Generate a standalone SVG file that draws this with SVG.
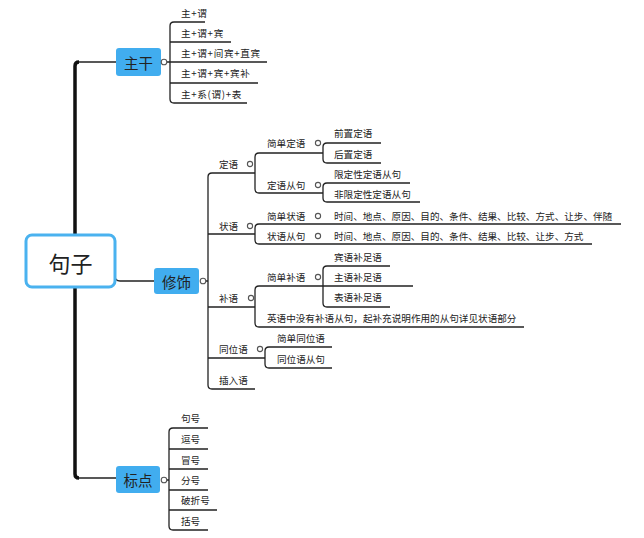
<svg xmlns="http://www.w3.org/2000/svg" width="644" height="538" viewBox="0 0 644 538">
<style>
text{font-family:"Noto Sans CJK SC","Noto Sans",sans-serif;fill:#222;dominant-baseline:central}
.leaf{font-size:9.6px}
.plus{letter-spacing:0.7px}
.box{font-size:14.5px;text-anchor:middle}
.ln{fill:none;stroke:#222;stroke-width:1.3}
.trunk{fill:none;stroke:#111;stroke-width:3.5}
.dot{fill:#fff;stroke:#555;stroke-width:1.1}
.bx{fill:#41adef}
</style>
<rect width="644" height="538" fill="#fff"/>
<g id="connectors">
  <path class="trunk" d="M75,66 Q75,62 79,62 M75,66 L75,474 Q75,478 79,478"/>
  <path class="ln" d="M79,62 L116,62 M79,478 L116,478"/>
  <path class="ln" d="M115,276 Q115,281 120,281 L154,281"/>
  <path class="ln" d="M167,62 L170,62 M174,22 Q170,22 170,26 L170,99 Q170,103 174,103"/>
  <path class="ln" d="M174,22 L205,22 M170,42 L231,42 M170,62 L267,62 M170,83 L258,83 M174,103 L247,103"/>
  <path class="ln" d="M206,281 L208,281 M212,173 Q208,173 208,177 L208,385 Q208,389 212,389"/>
  <path class="ln" d="M212,173 L255,173 M208,234 L255,234 M208,307 L255,307 M208,358 L265,358 M212,389 L255,389"/>
  <path class="ln" d="M259,153 Q255,153 255,157 L255,189 Q255,193 259,193 M259,153 L323,153 M259,193 L323,193"/>
  <path class="ln" d="M327,143 Q323,143 323,147 L323,159 Q323,163 327,163 M327,143 L381,143 M327,163 L381,163"/>
  <path class="ln" d="M327,183 Q323,183 323,187 L323,198 Q323,202 327,202 M327,183 L410,183 M327,202 L420,202"/>
  <path class="ln" d="M259,224 Q255,224 255,228 L255,240 Q255,244 259,244 M259,224 L621,224 M259,244 L592,244"/>
  <path class="ln" d="M259,286 Q255,286 255,290 L255,323 Q255,327 259,327 M259,286 L413,286 M259,327 L524,327"/>
  <path class="ln" d="M327,266 Q323,266 323,270 L323,303 Q323,307 327,307 M327,266 L390,266 M327,307 L390,307"/>
  <path class="ln" d="M269,347 Q265,347 265,351 L265,364 Q265,368 269,368 M269,347 L332,347 M269,368 L332,368"/>
  <path class="ln" d="M167,480 L169,480 M173,428 Q169,428 169,432 L169,526 Q169,530 173,530"/>
  <path class="ln" d="M173,428 L208,428 M169,449 L208,449 M169,469 L208,469 M169,490 L208,490 M169,510 L217,510 M173,530 L208,530"/>
</g>
<g id="root">
  <rect x="26" y="235" width="89" height="52" rx="6" fill="#fff" stroke="#4ab2ef" stroke-width="3"/>
  <text x="70.5" y="262" font-size="22" text-anchor="middle">句子</text>
</g>
<g id="zhugan">
  <rect class="bx" x="116" y="48" width="45" height="28" rx="3"/>
  <text class="box" x="138.5" y="62">主干</text>
  <circle class="dot" cx="164" cy="62" r="2.8"/>
</g>
<g id="xiushi">
  <rect class="bx" x="154" y="268" width="45" height="26" rx="3"/>
  <text class="box" x="176.5" y="281">修饰</text>
  <circle class="dot" cx="203" cy="281" r="2.8"/>
</g>
<g id="biaodian">
  <rect class="bx" x="116" y="466" width="44" height="27" rx="3"/>
  <text class="box" x="138" y="479.5">标点</text>
  <circle class="dot" cx="164" cy="480" r="2.8"/>
</g>
<g id="zhugan-children">
  <text class="leaf plus" x="181" y="13">主+谓</text>
  <text class="leaf plus" x="181" y="33">主+谓+宾</text>
  <text class="leaf plus" x="181" y="53">主+谓+间宾+直宾</text>
  <text class="leaf plus" x="181" y="73">主+谓+宾+宾补</text>
  <text class="leaf plus" x="181" y="94">主+系(谓)+表</text>
</g>
<g id="dingyu">
  <text class="leaf" x="219" y="164">定语</text>
  <circle class="dot" cx="250" cy="164" r="2.6"/>
  <text class="leaf" x="267" y="143">简单定语</text>
  <circle class="dot" cx="318" cy="143" r="2.6"/>
  <text class="leaf" x="334" y="133">前置定语</text>
  <text class="leaf" x="334" y="154">后置定语</text>
  <text class="leaf" x="267" y="185">定语从句</text>
  <circle class="dot" cx="318" cy="185" r="2.6"/>
  <text class="leaf" x="334" y="174">限定性定语从句</text>
  <text class="leaf" x="334" y="194">非限定性定语从句</text>
</g>
<g id="zhuangyu">
  <text class="leaf" x="219" y="226">状语</text>
  <circle class="dot" cx="250" cy="226" r="2.6"/>
  <text class="leaf" x="267" y="216">简单状语</text>
  <circle class="dot" cx="318" cy="216" r="2.6"/>
  <text class="leaf" x="334" y="216">时间、地点、原因、目的、条件、结果、比较、方式、让步、伴随</text>
  <text class="leaf" x="267" y="236">状语从句</text>
  <circle class="dot" cx="318" cy="236" r="2.6"/>
  <text class="leaf" x="334" y="236">时间、地点、原因、目的、条件、结果、比较、让步、方式</text>
</g>
<g id="buyu">
  <text class="leaf" x="219" y="298">补语</text>
  <circle class="dot" cx="251" cy="298" r="2.6"/>
  <text class="leaf" x="267" y="277">简单补语</text>
  <circle class="dot" cx="318" cy="277" r="2.6"/>
  <text class="leaf" x="334" y="257">宾语补足语</text>
  <text class="leaf" x="334" y="277">主语补足语</text>
  <text class="leaf" x="334" y="297">表语补足语</text>
  <text class="leaf" x="267" y="318">英语中没有补语从句，起补充说明作用的从句详见状语部分</text>
</g>
<g id="tongweiyu">
  <text class="leaf" x="219" y="349">同位语</text>
  <circle class="dot" cx="260" cy="349" r="2.6"/>
  <text class="leaf" x="277" y="338">简单同位语</text>
  <text class="leaf" x="277" y="359">同位语从句</text>
</g>
<g id="charuyu">
  <text class="leaf" x="219" y="380">插入语</text>
</g>
<g id="biaodian-children">
  <text class="leaf" x="181" y="418">句号</text>
  <text class="leaf" x="181" y="439">逗号</text>
  <text class="leaf" x="181" y="460">冒号</text>
  <text class="leaf" x="181" y="480">分号</text>
  <text class="leaf" x="181" y="500">破折号</text>
  <text class="leaf" x="181" y="521">括号</text>
</g>
</svg>
